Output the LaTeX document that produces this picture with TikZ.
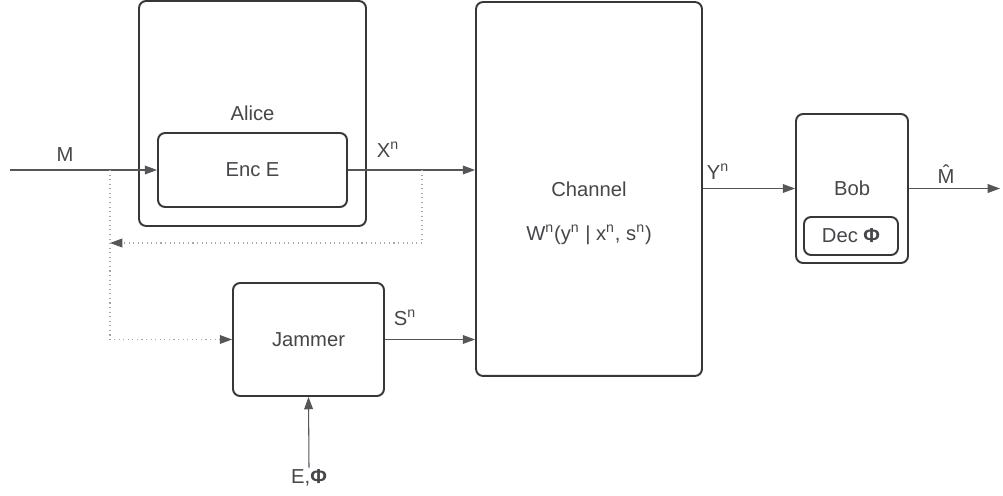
\documentclass[tikz,border=0pt]{standalone}
\usepackage{fontspec}
\setmainfont{Liberation Sans}
\usepackage{tikz}
\usetikzlibrary{positioning,calc}
\usetikzlibrary{arrows.meta}
\definecolor{BoxLine}{RGB}{55,55,58}
\definecolor{WireGray}{RGB}{85,85,90}
\definecolor{TextGray}{RGB}{70,70,75}
\definecolor{DotGray}{RGB}{165,165,170}
\tikzset{
	blk/.style={draw=BoxLine,line width=1.1pt,rounded corners=4pt,fill=white,
		text=TextGray,font=\fontsize{11.5}{14}\selectfont,inner sep=0pt},
	wire/.style={draw=WireGray,line width=0.6pt,-{Triangle[length=7pt,width=5pt]}},
	fb/.style={draw=DotGray,line width=0.6pt,dotted,-{Triangle[length=7pt,width=5pt,color=WireGray]}},
	lbl/.style={text=TextGray,font=\fontsize{11.5}{14}\selectfont,inner sep=1pt},
}

\begin{document}
\begin{tikzpicture}[x=0.02cm,y=-0.02cm]
			\useasboundingbox (0,0) rectangle (1003,496);
			\node[blk,minimum width=4.54cm,minimum height=4.5cm] (alice) at (252.5,113.5) {Alice};
			\node[blk,minimum width=3.78cm,minimum height=1.48cm] (enc) at (252.5,170) {Enc E};
			\node[blk,minimum width=4.52cm,minimum height=7.48cm] (chan) at (589,189) {Channel};
			\node[lbl] (chw) at (589,235) {W\textsuperscript{n}(y\textsuperscript{n} | x\textsuperscript{n}, s\textsuperscript{n})};
			\node[blk,minimum width=3.02cm,minimum height=2.26cm] (jam) at (308.5,339.5) {Jammer};
			\node[blk,minimum width=2.24cm,minimum height=2.98cm] (bob) at (852,188.5) {Bob};
			\node[blk,minimum width=1.88cm,minimum height=0.76cm] (dec) at (851,236) {Dec \textbf{Φ}};
			\coordinate (src) at (10,170);
			\coordinate (sink) at (1000,188.5);
			\coordinate (mtap) at (110,170);
			\coordinate (xtap) at (422,170);
			\node[lbl] (key) at (309,478) {E,\textbf{Φ}};
			% main links
			\draw[wire] (src) -- (enc.west);
			\draw[wire] (enc.east) -- (enc.east -| chan.west);
			\draw[wire] (jam.east) -- (jam.east -| chan.west);
			\draw[wire] (bob.west -| chan.east) -- (bob.west);
			\draw[wire] (bob.east) -- (sink);
			\draw[wire] (key.north) -- (jam.south);
			% dotted side paths
			\draw[fb] (xtap) |- (mtap |- 0,243);
			\draw[fb] (mtap) |- (jam.west);
			\foreach \px/\py/\txt in {65/155/M,388/150/X\textsuperscript{n},405/318/S\textsuperscript{n},718/172/Y\textsuperscript{n}}
			\node[lbl] at (\px,\py) {\txt};
			\node[lbl] (mhat) at (946,174) {\^{M}};
		\end{tikzpicture}
\end{document}
